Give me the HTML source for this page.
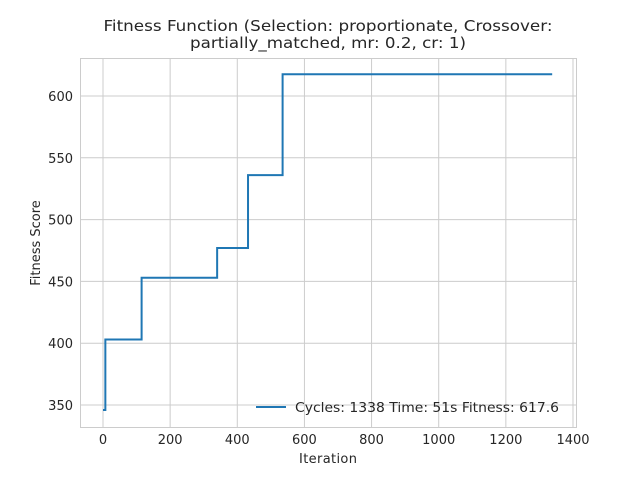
<!DOCTYPE html>
<html><head><meta charset="utf-8"><style>
body{margin:0;background:#fff;font-family:"Liberation Sans","DejaVu Sans",sans-serif}
</style></head><body>
<svg width="640" height="480" xmlns="http://www.w3.org/2000/svg">
<rect width="640" height="480" fill="#fff"/>
<g id="grid"></g>
<rect x="80.5" y="58.5" width="496" height="369" fill="none" stroke="#ccc"/>
<g id="series"></g>
<g id="labels" font-family="DejaVu Sans, Liberation Sans, sans-serif" fill="#262626"></g>
<text x="328" y="31" text-anchor="middle" font-size="15.5" textLength="449" lengthAdjust="spacingAndGlyphs" fill="#262626" font-family="DejaVu Sans, Liberation Sans, sans-serif">Fitness Function (Selection: proportionate, Crossover:</text>
<text x="328" y="48" text-anchor="middle" font-size="15.5" textLength="276" lengthAdjust="spacingAndGlyphs" fill="#262626" font-family="DejaVu Sans, Liberation Sans, sans-serif">partially_matched, mr: 0.2, cr: 1)</text>
<text x="328" y="463" text-anchor="middle" font-size="13" textLength="58" fill="#262626" font-family="DejaVu Sans, Liberation Sans, sans-serif">Iteration</text>
<text transform="translate(40,243) rotate(-90)" text-anchor="middle" font-size="13" fill="#262626" font-family="DejaVu Sans, Liberation Sans, sans-serif">Fitness Score</text>
<line x1="256" y1="407" x2="286" y2="407" stroke="#1f77b4" stroke-width="2"/>
<text x="295" y="412" font-size="13.5" textLength="264" lengthAdjust="spacingAndGlyphs" fill="#262626" font-family="DejaVu Sans, Liberation Sans, sans-serif">Cycles: 1338 Time: 51s Fitness: 617.6</text>
</svg>
<script>
const xTicks=[0,200,400,600,800,1000,1200,1400];
const yTicks=[350,400,450,500,550,600];
const iterations=[0,7,7,115,115,340,340,432,432,535,535,1338];
const fitness=[346,346,403,403,453,453,477,477,536,536,617.6,617.6];
const X=v=>103+v*0.33571, Y=v=>405-(v-350)*1.236;
const NS="http://www.w3.org/2000/svg";
const grid=document.getElementById('grid'),lab=document.getElementById('labels'),ser=document.getElementById('series');
xTicks.forEach(t=>{
 const l=document.createElementNS(NS,'line');
 l.setAttribute('x1',X(t));l.setAttribute('x2',X(t));l.setAttribute('y1',58);l.setAttribute('y2',427);l.setAttribute('stroke','#ccc');
 
 
 grid.appendChild(l);
 const tx=document.createElementNS(NS,'text');
 tx.setAttribute('x',X(t));tx.setAttribute('y',444);tx.setAttribute('text-anchor','middle');tx.setAttribute('font-size','13');tx.textContent=t;
 
 
 lab.appendChild(tx);
});
yTicks.forEach(t=>{
 const l=document.createElementNS(NS,'line');
 l.setAttribute('x1',80);l.setAttribute('x2',576);l.setAttribute('y1',Y(t));l.setAttribute('y2',Y(t));l.setAttribute('stroke','#ccc');
 
 
 grid.appendChild(l);
 const tx=document.createElementNS(NS,'text');
 tx.setAttribute('x',73);tx.setAttribute('y',Y(t)+5);tx.setAttribute('text-anchor','end');tx.setAttribute('font-size','13');tx.textContent=t;
 
 
 lab.appendChild(tx);
});
const p=document.createElementNS(NS,'polyline');
p.setAttribute('points',iterations.map((v,i)=>X(v)+','+Y(fitness[i])).join(' '));
p.setAttribute('fill','none');p.setAttribute('stroke','#1f77b4');p.setAttribute('stroke-width','2');


ser.appendChild(p);
</script>
</body></html>
